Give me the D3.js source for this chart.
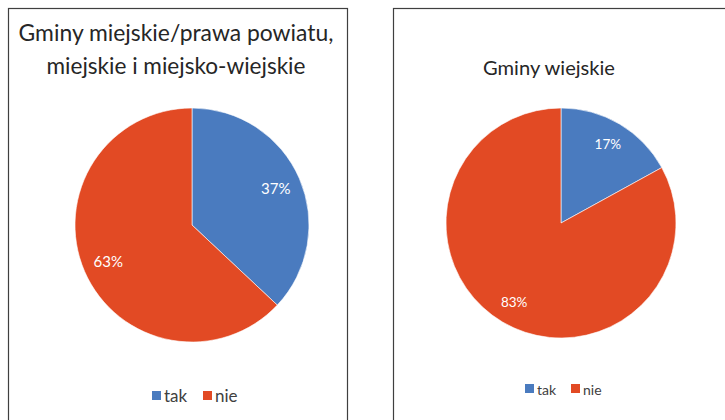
<!DOCTYPE html>
<html>
<head>
<meta charset="utf-8">
<script src="https://cdn.jsdelivr.net/npm/d3@7"></script>
<style>
  html, body { margin: 0; padding: 0; background: #ffffff; }
  svg { display: block; }
  text { font-family: Lato, "Open Sans", sans-serif; }
</style>
</head>
<body>
<svg id="chart" width="725" height="420"></svg>
<script>
// ---- data ----
const categories = ["tak", "nie"];
const seriesLeft = [37, 63];
const seriesRight = [17, 83];
const titleLeft = ["Gminy miejskie/prawa powiatu,", "miejskie i miejsko-wiejskie"];
const titleRight = ["Gminy wiejskie"];
const colors = ["#4a7bbf", "#e24a24"];

const svg = d3.select("#chart");
const color = d3.scaleOrdinal().domain(categories).range(colors);

function fit(sel, targetWidth) {
  const node = sel.node();
  const fs = parseFloat(sel.attr("font-size"));
  const w = node.getComputedTextLength();
  sel.attr("font-size", (fs * targetWidth / w).toFixed(2));
}

function panel(cfg) {
  // border
  svg.append("rect")
    .attr("x", cfg.x0 + 0.5).attr("y", 8.5)
    .attr("width", cfg.x1 - cfg.x0).attr("height", 450)
    .attr("fill", "none").attr("stroke", "#3f3f3f").attr("stroke-width", 1.2);

  const g = svg.append("g");
  // titles
  cfg.title.forEach((t, i) => {
    const tx = g.append("text")
      .attr("x", cfg.titleX).attr("y", cfg.titleY[i])
      .attr("text-anchor", "middle")
      .attr("fill", "#262626")
      .attr("font-size", cfg.titleSize)
      .text(t);
    fit(tx, cfg.titleW[i]);
  });

  const pie = d3.pie().sort(null).value(d => d.v);
  const arcs = pie(categories.map((c, i) => ({ c, v: cfg.values[i] })));
  const arc = d3.arc().innerRadius(0).outerRadius(cfg.r);
  const labelArc = d3.arc().innerRadius(cfg.r * cfg.lr).outerRadius(cfg.r * cfg.lr);
  const total = d3.sum(cfg.values);

  const pg = g.append("g").attr("transform", `translate(${cfg.cx},${cfg.cy})`);
  pg.selectAll("path").data(arcs).join("path")
    .attr("d", arc)
    .attr("fill", d => color(d.data.c))
    .attr("stroke", "#ffffff").attr("stroke-width", 0.6);
  pg.selectAll("text").data(arcs).join("text")
    .attr("transform", d => `translate(${labelArc.centroid(d)})`)
    .attr("text-anchor", "middle")
    .attr("dy", "0.36em")
    .attr("fill", "#ffffff")
    .attr("font-size", cfg.labelSize)
    .text(d => Math.round(d.data.v / total * 100) + "%");

  // legend
  const lg = g.append("g");
  let x = cfg.legX;
  categories.forEach((c, i) => {
    lg.append("rect")
      .attr("x", x).attr("y", cfg.legY - cfg.sq)
      .attr("width", cfg.sq).attr("height", cfg.sq)
      .attr("fill", color(c));
    const t = lg.append("text")
      .attr("x", x + cfg.sq + 3).attr("y", cfg.legY + 2)
      .attr("fill", "#404040")
      .attr("font-size", cfg.legSize)
      .text(c);
    x += cfg.legStep;
  });
}

panel({
  x0: 8, x1: 347,
  title: titleLeft, titleX: 176, titleY: [41, 74], titleW: [315, 259], titleSize: 22,
  values: seriesLeft, cx: 192, cy: 225, r: 117, lr: 0.78, labelSize: 15,
  legX: 152, legY: 400, sq: 9, legSize: 17, legStep: 51
});

panel({
  x0: 393, x1: 740,
  title: titleRight, titleX: 549, titleY: [75], titleW: [132], titleSize: 18,
  values: seriesRight, cx: 561, cy: 223, r: 115, lr: 0.8, labelSize: 13.5,
  legX: 525, legY: 393, sq: 9, legSize: 14, legStep: 46
});
</script>
</body>
</html>
